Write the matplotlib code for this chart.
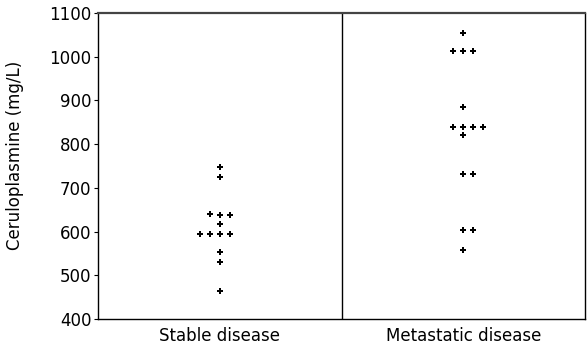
import numpy as np
import matplotlib
matplotlib.use("Agg")
import matplotlib.pyplot as plt

groups = ["Stable disease", "Metastatic disease"]
stable = [747, 725, 641, 637, 637, 618, 595, 595, 595, 595, 553, 530, 465]
metastatic = [1055, 1013, 1013, 1013, 885, 839, 839, 839, 839, 820, 732, 732, 604, 604, 558]
y_ticks = [400, 500, 600, 700, 800, 900, 1000, 1100]


def swarm_x(center, values, step=0.041, tol=8, lean_right=False):
    # put near-equal values side by side on one row
    xs = np.zeros(len(values))
    rows = []
    for i, v in enumerate(values):
        if rows and abs(values[rows[-1][0]] - v) <= tol:
            rows[-1].append(i)
        else:
            rows.append([i])
    for row in rows:
        n = len(row)
        first = -((n - 1) // 2) if lean_right else -(n // 2)
        for k, i in enumerate(row):
            xs[i] = center + (first + k) * step
    return xs


plt.rcParams["font.family"] = "DejaVu Sans"
fig = plt.figure(figsize=(5.88, 3.51), dpi=100)
ax = fig.add_axes([0.167, 0.091, 0.828, 0.872])

ax.plot(swarm_x(1, stable), stable, linestyle="none", marker="P",
        markersize=5, color="black", markeredgewidth=0)
ax.plot(swarm_x(2, metastatic, lean_right=True), metastatic, linestyle="none",
        marker="P", markersize=5, color="black", markeredgewidth=0)

ax.axvline(1.5, color="black", linewidth=1)
ax.set_xlim(0.5, 2.5)
ax.set_ylim(400, 1100)
ax.set_yticks(y_ticks)
ax.tick_params(axis="y", labelsize=12, length=3, width=0.8, pad=2)
ax.set_xticks([1, 2])
ax.set_xticklabels(groups, fontsize=12)
ax.tick_params(axis="x", length=0, pad=6)
fig.text(15 / 588, 1 - 155 / 351, "Ceruloplasmine (mg/L)", rotation=90,
         ha="center", va="center", fontsize=12)
for s in ax.spines.values():
    s.set_linewidth(1)
ax.spines["top"].set_linewidth(1.6)
ax.spines["top"].set_color("#444444")

fig.savefig("out.png", dpi=100)
plt.close()
